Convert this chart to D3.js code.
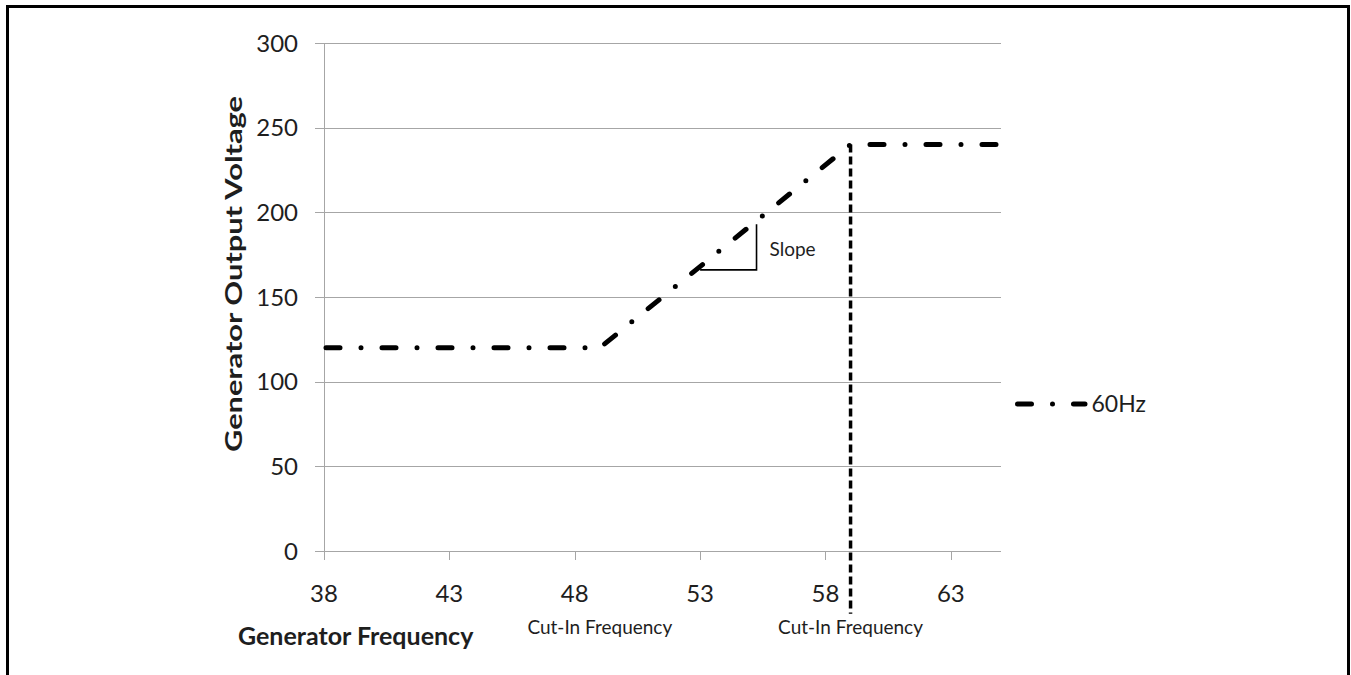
<!DOCTYPE html>
<html>
<head>
<meta charset="utf-8">
<script src="https://cdn.jsdelivr.net/npm/d3@7"></script>
<style>
  body { margin: 0; background: #fff; }
  text { font-family: Lato, "Open Sans", sans-serif; fill: #1e1e1e; }
</style>
</head>
<body>
<div id="chartDiv"></div>
<script>

// chart values
var freq = [38, 49, 59, 65];
var voltage = [120, 120, 240, 240];
var cutIn = [49, 59];
var cutInLabel = "Cut-In Frequency";
var xTicks = [38, 43, 48, 53, 58, 63];
var yTicks = [0, 50, 100, 150, 200, 250, 300];
var slopeX = [53, 55.25];
var slopeY = [166, 193];
var cutOffY = [240, -37];   // vertical marker at the upper cut-in
var seriesName = "60Hz";

var W = 1351, H = 675;
var margin = {top: 43, right: 350, bottom: 124, left: 324};

var svg = d3.select("#chartDiv").append("svg")
    .attr("width", W)
    .attr("height", H);

// outer frame (bottom runs off the picture)
svg.append("rect")
    .attr("x", 7.5).attr("y", 6.5)
    .attr("width", 1341).attr("height", 700)
    .attr("fill", "none").attr("stroke", "#000").attr("stroke-width", 3);

var x_scale = d3.scaleLinear()
    .domain([38, 65])
    .range([margin.left, W - margin.right]);

var y_scale = d3.scaleLinear()
    .domain([0, 300])
    .range([H - margin.bottom, margin.top]);

var gridColor = "#a6a6a6";

// horizontal gridlines
svg.append("g").selectAll("line").data(yTicks).enter()
    .append("line")
    .attr("x1", x_scale(38) - 9).attr("x2", x_scale(65))
    .attr("y1", function(d){ return Math.round(y_scale(d)) + 0.5; })
    .attr("y2", function(d){ return Math.round(y_scale(d)) + 0.5; })
    .attr("stroke", gridColor).attr("stroke-width", 1);

// y axis line
svg.append("line")
    .attr("x1", Math.round(x_scale(38)) + 0.5).attr("x2", Math.round(x_scale(38)) + 0.5)
    .attr("y1", y_scale(300)).attr("y2", y_scale(0))
    .attr("stroke", gridColor);

// x tick marks
svg.append("g").selectAll("line").data(xTicks).enter()
    .append("line")
    .attr("x1", function(d){ return Math.round(x_scale(d)) + 0.5; })
    .attr("x2", function(d){ return Math.round(x_scale(d)) + 0.5; })
    .attr("y1", y_scale(0)).attr("y2", y_scale(0) + 9)
    .attr("stroke", gridColor);

// tick labels
svg.append("g").selectAll("text").data(yTicks).enter()
    .append("text")
    .attr("x", x_scale(38) - 26)
    .attr("y", function(d){ return y_scale(d); })
    .attr("dy", "0.36em")
    .attr("text-anchor", "end")
    .style("font-size", "24px")
    .text(function(d){ return d; });

svg.append("g").selectAll("text").data(xTicks).enter()
    .append("text")
    .attr("x", function(d){ return x_scale(d); })
    .attr("y", 602)
    .attr("text-anchor", "middle")
    .style("font-size", "24px")
    .text(function(d){ return d; });

// axis titles
svg.append("text")
    .attr("transform", "translate(242,274) rotate(-90)")
    .attr("text-anchor", "middle")
    .attr("textLength", 356)
    .attr("lengthAdjust", "spacingAndGlyphs")
    .style("font-size", "22px").style("font-weight", "bold")
    .text("Generator Output Voltage");

svg.append("text")
    .attr("x", 238).attr("y", 645)
    .style("font-size", "25px").style("font-weight", "bold")
    .text("Generator Frequency");

// cut-in labels
svg.append("g").selectAll("text").data(cutIn).enter()
    .append("text")
    .attr("x", function(d){ return x_scale(d); })
    .attr("y", 634)
    .attr("text-anchor", "middle")
    .style("font-size", "19px")
    .text(cutInLabel);

// vertical dashed marker
svg.append("line")
    .attr("x1", x_scale(cutIn[1])).attr("x2", x_scale(cutIn[1]))
    .attr("y1", y_scale(cutOffY[0])).attr("y2", y_scale(cutOffY[1]))
    .attr("stroke", "#000").attr("stroke-width", 3.5)
    .attr("stroke-dasharray", "8,4");

// slope triangle
var tri = [[slopeX[0], slopeY[0]], [slopeX[1], slopeY[0]], [slopeX[1], slopeY[1]]];
svg.append("path")
    .attr("d", d3.line().x(function(d){ return x_scale(d[0]); }).y(function(d){ return y_scale(d[1]); })(tri))
    .attr("fill", "none").attr("stroke", "#000").attr("stroke-width", 1.6);

svg.append("text")
    .attr("x", x_scale(slopeX[1]) + 13)
    .attr("y", y_scale((slopeY[0] + slopeY[1]) / 2) + 9)
    .style("font-size", "19px")
    .text("Slope");

// the series
var pts = freq.map(function(f, i){ return [f, voltage[i]]; });
svg.append("path")
    .attr("d", d3.line().x(function(d){ return x_scale(d[0]); }).y(function(d){ return y_scale(d[1]); })(pts))
    .attr("fill", "none").attr("stroke", "#000").attr("stroke-width", 5)
    .attr("stroke-linecap", "round")
    .attr("stroke-dasharray", "14,21,0,21")
    .attr("stroke-dashoffset", -2);

// legend
var lg = svg.append("g").attr("transform", "translate(1017.5,404)");
lg.append("line")
    .attr("x1", 0).attr("x2", 67.5).attr("y1", 0).attr("y2", 0)
    .attr("stroke", "#000").attr("stroke-width", 5)
    .attr("stroke-linecap", "round")
    .attr("stroke-dasharray", "14,21,0,21");
lg.append("text")
    .attr("x", 74).attr("y", 0).attr("dy", "0.36em")
    .style("font-size", "23px")
    .text(seriesName);

</script>
</body>
</html>
